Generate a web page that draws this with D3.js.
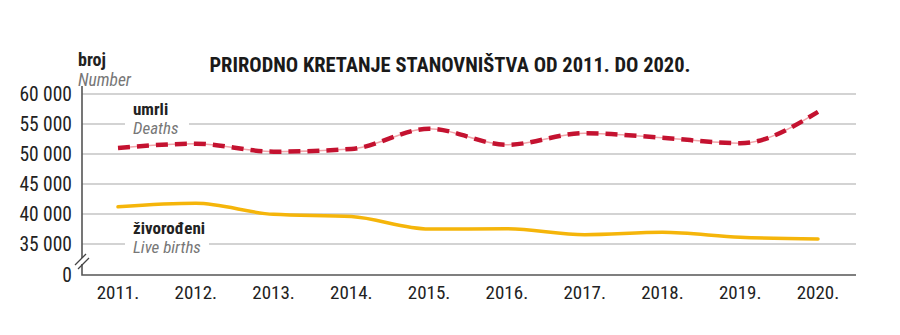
<!DOCTYPE html>
<html><head><meta charset="utf-8">
<script src="https://cdn.jsdelivr.net/npm/d3@7"></script>
<style>
body{margin:0;background:#fff;}
svg{display:block;}
text{font-family:"Liberation Sans Narrow","Roboto Condensed","Liberation Sans",Arial,sans-serif;}
</style></head>
<body>
<svg id="c" width="900" height="335"></svg>
<script>
const years = ["2011.","2012.","2013.","2014.","2015.","2016.","2017.","2018.","2019.","2020."];
const deaths = [51019,51710,50386,50839,54205,51542,53477,52706,51794,57023];
const births = [41197,41771,39939,39566,37503,37537,36556,36945,36135,35845];
const yTicks = [35000,40000,45000,50000,55000,60000];
const yTickLabels = ["35 000","40 000","45 000","50 000","55 000","60 000"];

const svg = d3.select("#c");
const x = d3.scalePoint().domain(years).range([118,818]);
const y = d3.scaleLinear().domain([35000,60000]).range([244,94]);
const left = 82, right = 856, base = 275;

// gridlines
svg.append("g").selectAll("line").data(yTicks).join("line")
  .attr("x1",left).attr("x2",right)
  .attr("y1",d=>y(d)).attr("y2",d=>y(d))
  .attr("stroke","#c4c4c4").attr("stroke-width",1.3);

// y axis labels
svg.append("g").selectAll("text").data(yTicks).join("text")
  .attr("x",72).attr("y",d=>y(d)+7)
  .attr("text-anchor","end").attr("font-size",19.5).attr("fill","#222")
  .text((d,i)=>yTickLabels[i]);
svg.append("text").attr("x",72).attr("y",base+7).attr("text-anchor","end")
  .attr("font-size",19.5).attr("fill","#222").text("0");

// axes lines
svg.append("path").attr("d",`M${left},${94-8}V${base}H${right}`)
  .attr("fill","none").attr("stroke","#555").attr("stroke-width",1.6);
// break marks
svg.append("rect").attr("x",left-3).attr("y",258).attr("width",6).attr("height",6).attr("fill","#fff");
svg.append("line").attr("x1",75).attr("y1",265).attr("x2",86).attr("y2",254).attr("stroke","#444").attr("stroke-width",1.3);
svg.append("line").attr("x1",78).attr("y1",269).attr("x2",89).attr("y2",258).attr("stroke","#444").attr("stroke-width",1.3);

// x labels
svg.append("g").selectAll("text").data(years).join("text")
  .attr("x",d=>x(d)).attr("y",299).attr("text-anchor","middle")
  .attr("font-size",19).attr("fill","#222").text(d=>d);

// series labels with white background
function seriesLabel(tx,ty,main,sub,w){
  svg.append("rect").attr("x",tx-8).attr("y",ty+5).attr("width",w).attr("height",17).attr("fill","#fff");
  svg.append("text").attr("x",tx).attr("y",ty).attr("font-size",17).attr("font-weight","bold").attr("fill","#222").text(main);
  svg.append("text").attr("x",tx).attr("y",ty+19).attr("font-size",17).attr("font-style","italic").attr("fill","#777").text(sub);
}
seriesLabel(133,115,"umrli","Deaths",64);
seriesLabel(133,234,"živorođeni","Live births",84);

const line = d3.line().x((d,i)=>x(years[i])).y(d=>y(d)).curve(d3.curveMonotoneX);

svg.append("path").datum(births).attr("d",line).attr("fill","none")
  .attr("stroke","#f5b50a").attr("stroke-width",3.5).attr("stroke-linecap","round");

svg.append("path").datum(deaths).attr("d",line).attr("fill","none")
  .attr("stroke","#f1a5aa").attr("stroke-width",1.5);
svg.append("path").datum(deaths).attr("d",line).attr("fill","none")
  .attr("stroke","#c41230").attr("stroke-width",4.5).attr("stroke-dasharray","12,7");

// titles
svg.append("text").attr("x",78).attr("y",66).attr("font-size",18).attr("font-weight","bold").attr("fill","#222").text("broj");
svg.append("text").attr("x",78).attr("y",86).attr("font-size",17.5).attr("font-style","italic").attr("fill","#777").text("Number");
svg.append("text").attr("x",450).attr("y",72).attr("text-anchor","middle").attr("font-size",20.5).attr("font-weight","bold").attr("fill","#1a1a1a")
  .text("PRIRODNO KRETANJE STANOVNIŠTVA OD 2011. DO 2020.");
</script>
</body></html>
